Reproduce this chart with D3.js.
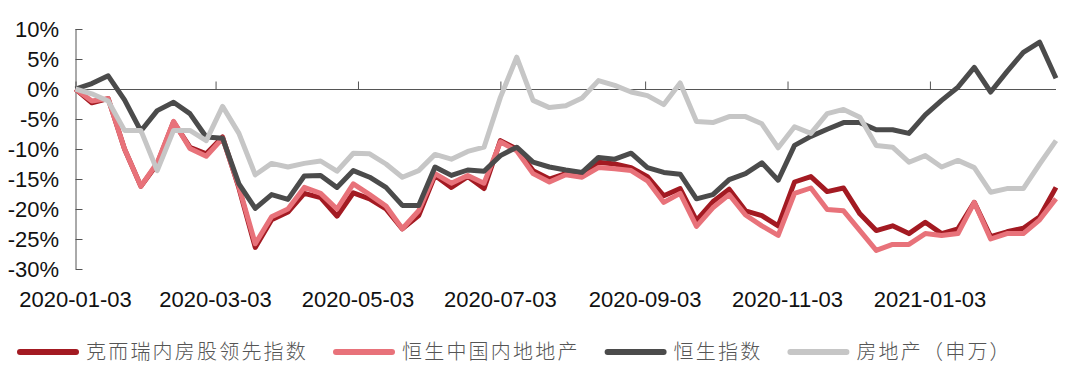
<!DOCTYPE html>
<html>
<head>
<meta charset="utf-8">
<script src="https://cdn.jsdelivr.net/npm/d3@7"></script>
<style>
  html, body { margin: 0; padding: 0; background: #fff; }
  svg { display: block; }
</style>
</head>
<body>
<svg id="chart" width="1080" height="380"></svg>
<script>
// ---- Data (weekly) ----
const dates = [
  "2020-01-03","2020-01-10","2020-01-17","2020-01-24","2020-01-31",
  "2020-02-07","2020-02-14","2020-02-21","2020-02-28",
  "2020-03-06","2020-03-13","2020-03-20","2020-03-27",
  "2020-04-03","2020-04-10","2020-04-17","2020-04-24",
  "2020-05-01","2020-05-08","2020-05-15","2020-05-22","2020-05-29",
  "2020-06-05","2020-06-12","2020-06-19","2020-06-26",
  "2020-07-03","2020-07-10","2020-07-17","2020-07-24","2020-07-31",
  "2020-08-07","2020-08-14","2020-08-21","2020-08-28",
  "2020-09-04","2020-09-11","2020-09-18","2020-09-25",
  "2020-10-02","2020-10-09","2020-10-16","2020-10-23","2020-10-30",
  "2020-11-06","2020-11-13","2020-11-20","2020-11-27",
  "2020-12-04","2020-12-11","2020-12-18","2020-12-25",
  "2021-01-01","2021-01-08","2021-01-15","2021-01-22","2021-01-29",
  "2021-02-05","2021-02-12","2021-02-19","2021-02-26"
];

const cricLeading = [
  0, -2.3, -1.6, -10, -16.2, -12.5, -5.5, -9.7, -10.8,
  -8.0, -16.5, -26.4, -21.8, -20.5, -17.4, -18.1, -21.2,
  -17.3, -18.3, -20.0, -23.3, -21.1, -14.4, -16.4, -14.6, -16.6,
  -8.6, -10.0, -13.6, -15.0, -14.1, -14.1, -12.2, -12.5, -13.1,
  -14.6, -17.8, -16.6, -21.9, -18.8, -16.7, -20.3, -21.1, -22.8,
  -15.5, -14.6, -17.1, -16.5, -20.8, -23.6, -22.8, -24.1,
  -22.2, -24.1, -23.3, -18.9, -24.6, -23.8, -23.2, -21.3, -16.4
];

const hsMainlandProp = [
  0, -2.0, -1.6, -10, -16.2, -12.3, -5.4, -9.9, -11.2,
  -8.2, -16.3, -25.8, -21.3, -20.0, -16.4, -17.4, -20.0,
  -15.8, -17.6, -19.5, -23.3, -20.3, -14.1, -15.7, -14.4, -15.7,
  -8.8, -10.3, -14.1, -15.5, -14.3, -14.7, -13.1, -13.3, -13.6,
  -15.3, -18.9, -17.4, -22.9, -19.8, -17.6, -21.0, -22.8, -24.4,
  -17.4, -16.5, -20.1, -20.3, -23.6, -26.9, -25.9, -25.9,
  -24.1, -24.4, -24.1, -18.9, -25.0, -24.1, -24.1, -21.8, -18.3
];

const hangSeng = [
  0, 0.9, 2.2, -1.8, -7.0, -3.6, -2.2, -4.1, -8.0,
  -8.2, -15.8, -19.9, -17.6, -18.4, -14.5, -14.4, -16.4,
  -13.6, -14.7, -16.4, -19.4, -19.4, -13.0, -14.4, -13.5, -13.7,
  -11.1, -9.7, -12.2, -13.0, -13.5, -13.9, -11.4, -11.7, -10.7,
  -13.1, -13.9, -14.2, -18.3, -17.6, -15.1, -14.1, -12.3, -15.2,
  -9.4, -7.9, -6.7, -5.6, -5.6, -6.8, -6.8, -7.4,
  -4.3, -1.9, 0.3, 3.6, -0.5, 2.9, 6.1, 7.8, 1.8
];

const swRealEstate = [
  0, -0.8, -2.0, -6.9, -6.9, -13.6, -6.9, -6.9, -8.6,
  -2.9, -7.4, -14.3, -12.4, -13.0, -12.4, -12.0, -13.7,
  -10.7, -10.8, -12.5, -14.7, -13.6, -10.9, -11.7, -10.4, -9.7,
  -1.4, 5.3, -1.9, -3.1, -2.8, -1.5, 1.4, 0.6, -0.5,
  -1.1, -2.6, 1.0, -5.4, -5.6, -4.6, -4.6, -5.8, -9.8,
  -6.3, -7.4, -4.1, -3.4, -4.7, -9.4, -9.7, -12.2,
  -11.1, -13.0, -11.9, -13.1, -17.2, -16.6, -16.6, -12.5, -8.6
];

const seriesNames = ["克而瑞内房股领先指数", "恒生中国内地地产", "恒生指数", "房地产（申万）"];
const seriesColors = ["#A31A22", "#E8727A", "#4B4B4B", "#C6C6C6"];
const xTickLabels = ["2020-01-03","2020-03-03","2020-05-03","2020-07-03","2020-09-03","2020-11-03","2021-01-03"];
const yTicks = [10, 5, 0, -5, -10, -15, -20, -25, -30];

// ---- Layout ----
const parse = d3.timeParse("%Y-%m-%d");
const dateObjs = dates.map(parse);
const svg = d3.select("#chart");
const mLeft = 75.5, mRight = 1056, mTop = 29, mBottom = 269;

const x = d3.scaleTime()
  .domain([dateObjs[0], dateObjs[dateObjs.length - 1]])
  .range([mLeft, mRight]);
const y = d3.scaleLinear().domain([-30, 10]).range([mBottom, mTop]);

const axisColor = "#555";

// Y axis (ticks pointing inward)
const yAxis = svg.append("g")
  .attr("transform", `translate(${mLeft},0)`)
  .call(d3.axisRight(y).tickValues(yTicks).tickSize(7).tickFormat(""));
yAxis.select(".domain").attr("stroke", axisColor).attr("d", `M0.5,${mTop}V${mBottom}`);
yAxis.selectAll(".tick line").attr("stroke", axisColor);

svg.append("g").selectAll("text")
  .data(yTicks).join("text")
  .attr("x", 59)
  .attr("y", d => y(d))
  .attr("dy", "0.36em")
  .attr("text-anchor", "end")
  .attr("font-family", "'Liberation Sans', Arial, sans-serif")
  .attr("font-size", 22)
  .attr("fill", "#111")
  .text(d => d + "%");

// X axis along the zero line, ticks pointing upward
const xTickDates = xTickLabels.map(parse);
const xAxis = svg.append("g")
  .attr("transform", `translate(0,${Math.round(y(0)) + 0.5})`)
  .call(d3.axisTop(x).tickValues(xTickDates).tickSize(8).tickFormat(""));
xAxis.select(".domain").attr("stroke", axisColor).attr("d", `M${mLeft},0H${mRight}`);
xAxis.selectAll(".tick line").attr("stroke", axisColor);

svg.append("g").selectAll("text")
  .data(xTickDates).join("text")
  .attr("x", d => x(d))
  .attr("y", 306.5)
  .attr("text-anchor", "middle")
  .attr("font-family", "'Liberation Sans', Arial, sans-serif")
  .attr("font-size", 22)
  .attr("fill", "#111")
  .text((d, i) => xTickLabels[i]);

// Series lines
const allSeries = [cricLeading, hsMainlandProp, hangSeng, swRealEstate];
const line = d3.line()
  .x((d, i) => x(dateObjs[i]))
  .y(d => y(d));

svg.append("g").selectAll("path")
  .data(allSeries).join("path")
  .attr("d", d => line(d))
  .attr("fill", "none")
  .attr("stroke", (d, i) => seriesColors[i])
  .attr("stroke-width", 5)
  .attr("stroke-linejoin", "round")
  .attr("stroke-linecap", "butt");

// Legend
const legend = svg.append("g");
let lx = 17;
const ly = 352;
seriesNames.forEach((name, i) => {
  legend.append("line")
    .attr("x1", lx + 3).attr("x2", lx + 59)
    .attr("y1", ly).attr("y2", ly)
    .attr("stroke", seriesColors[i])
    .attr("stroke-width", 6)
    .attr("stroke-linecap", "round");
  const t = legend.append("text")
    .attr("x", lx + 69)
    .attr("y", ly)
    .attr("dy", "0.36em")
    .attr("font-family", "'Noto Sans CJK SC', sans-serif")
    .attr("font-weight", 300)
    .attr("font-size", 20)
    .attr("letter-spacing", "2.2px")
    .attr("fill", "#555")
    .text(name);
  lx = lx + 69 + t.node().getComputedTextLength() + 25;
});
</script>
</body>
</html>
